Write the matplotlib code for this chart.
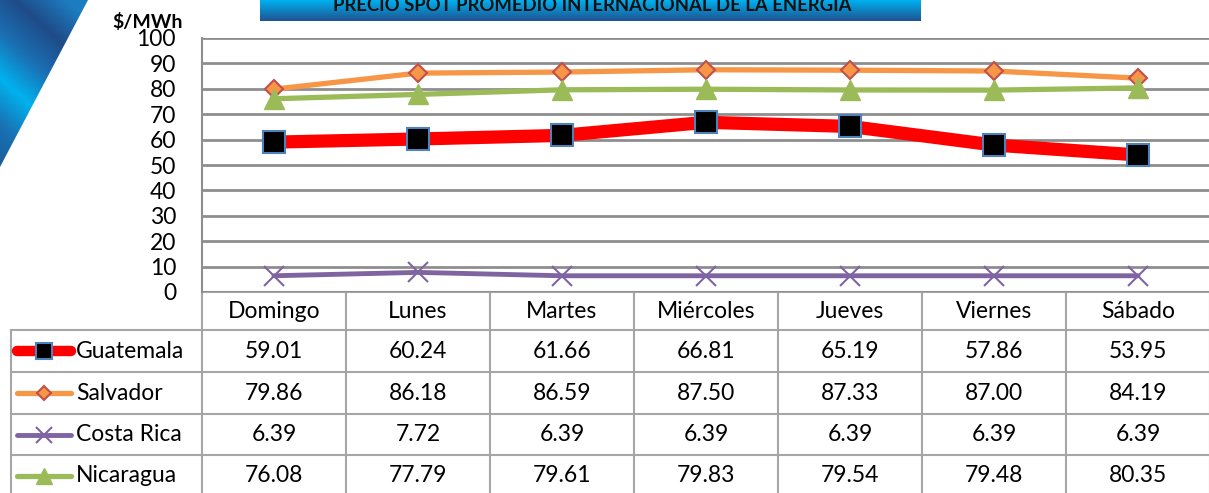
"""Precio spot promedio internacional de la energía: line chart with data table."""
import matplotlib
matplotlib.use("Agg")
import matplotlib.pyplot as plt
import numpy as np
from matplotlib.colors import LinearSegmentedColormap
from matplotlib.patches import Polygon

plt.rcParams["font.family"] = ["Lato", "DejaVu Sans"]

DAYS = ["Domingo", "Lunes", "Martes", "Miércoles", "Jueves", "Viernes", "Sábado"]
COUNTRIES = ["Guatemala", "Salvador", "Costa Rica", "Nicaragua"]
GUATEMALA = [59.01, 60.24, 61.66, 66.81, 65.19, 57.86, 53.95]
SALVADOR = [79.86, 86.18, 86.59, 87.50, 87.33, 87.00, 84.19]
COSTA_RICA = [6.39, 7.72, 6.39, 6.39, 6.39, 6.39, 6.39]
NICARAGUA = [76.08, 77.79, 79.61, 79.83, 79.54, 79.48, 80.35]
Y_TICKS = [0, 10, 20, 30, 40, 50, 60, 70, 80, 90, 100]
TITLE = "PRECIO SPOT PROMEDIO INTERNACIONAL DE LA ENERGÍA"

STYLES = {
    "Guatemala": dict(color="#FF0000", lw=9.5, marker="s", ms=16,
                      mfc="black", mec="#4F81BD", mew=1.5),
    "Salvador": dict(color="#F79646", lw=3.8, marker="D", ms=9,
                     mfc="#F79646", mec="#C0504D", mew=1.5),
    "Costa Rica": dict(color="#8064A2", lw=3.5, marker="x", ms=14,
                       mec="#8064A2", mew=1.5),
    "Nicaragua": dict(color="#9BBB59", lw=3.8, marker="^", ms=15,
                      mfc="#9BBB59", mec="#9BBB59", mew=1),
}
SERIES = dict(zip(COUNTRIES, [GUATEMALA, SALVADOR, COSTA_RICA, NICARAGUA]))

W, H = 1209, 493
PLOT_L, PLOT_R, PLOT_T, PLOT_B = 202, 1210, 38, 292
ROWS = [292, 330, 372, 414, 455, 497]
KEY_L = 11
GRID = "#8E8E8E"
TABLE_LINE = "#A6A6A6"
FS = 16.5


def main():
    fig = plt.figure(figsize=(W / 100, H / 100), dpi=100)

    # pixel-space overlay for decoration and the data table
    ov = fig.add_axes([0, 0, 1, 1], zorder=0)
    ov.set_xlim(0, W)
    ov.set_ylim(H, 0)
    ov.axis("off")

    # blue diagonal corner
    cmap_corner = LinearSegmentedColormap.from_list(
        "corner", ["#1C7CC0", "#1F4B88", "#1A6FB3", "#00B2EE", "#1872B4", "#1A5C9C"])
    xx, yy = np.meshgrid(np.linspace(0, 90, 90), np.linspace(0, 170, 170))
    grad = yy - 0.9 * xx
    im = ov.imshow(grad, extent=(0, 90, 170, 0), cmap=cmap_corner,
                   vmin=-60, vmax=170, aspect="auto", zorder=1)
    tri = Polygon([(0, 0), (88, 0), (0, 167)], closed=True,
                  transform=ov.transData, facecolor="none", edgecolor="none")
    ov.add_patch(tri)
    im.set_clip_path(tri)

    # title banner
    cmap_banner = LinearSegmentedColormap.from_list("banner", ["#00B0F0", "#1F5390"])
    ov.imshow(np.linspace(0, 1, 50).reshape(-1, 1), extent=(260, 921, 21, 0),
              cmap=cmap_banner, aspect="auto", zorder=1)
    ov.text(592, 11, TITLE, ha="center", va="baseline", fontsize=13.3,
            fontweight="bold", color="#111111", zorder=2)

    # main plot
    ax = fig.add_axes([PLOT_L / W, (H - PLOT_B) / H, (PLOT_R - PLOT_L) / W,
                       (PLOT_B - PLOT_T) / H], zorder=2)
    ax.patch.set_alpha(0)
    x = np.arange(len(DAYS))
    for name in COUNTRIES:
        st = STYLES[name]
        ax.plot(x, SERIES[name], solid_capstyle="round", solid_joinstyle="round",
                clip_on=False, **st)
    ax.set_xlim(-0.5, len(DAYS) - 0.5)
    ax.set_ylim(0, 100)
    ax.set_yticks(Y_TICKS)
    ax.set_xticks([])
    ax.yaxis.grid(True, color=GRID, lw=2)
    ax.set_axisbelow(True)
    for side in ["top", "right", "bottom"]:
        ax.spines[side].set_visible(False)
    ax.spines["left"].set_color(GRID)
    ax.spines["left"].set_linewidth(1.5)
    ax.tick_params(axis="y", length=0, pad=18.7, labelsize=FS)
    ax.text(-0.019, 1.063, "$/MWh", transform=ax.transAxes, ha="right", va="center",
            fontsize=14, fontweight="bold")

    # data table
    colw = (PLOT_R - PLOT_L) / len(DAYS)
    for i, y in enumerate(ROWS):
        ov.plot([KEY_L if i > 0 else PLOT_L, W], [y, y], color=TABLE_LINE, lw=1.5, zorder=1)
    for j in range(len(DAYS) + 1):
        xe = PLOT_L + j * colw
        ov.plot([xe, xe], [ROWS[0], ROWS[-1]], color=TABLE_LINE, lw=1.5, zorder=1)
    ov.plot([KEY_L, KEY_L], [ROWS[1], ROWS[-1]], color=TABLE_LINE, lw=1.5, zorder=1)

    for j, day in enumerate(DAYS):
        cx = PLOT_L + (j + 0.5) * colw
        ov.text(cx, (ROWS[0] + ROWS[1]) / 2, day, ha="center", va="center",
                fontsize=FS, zorder=3)
        for i, name in enumerate(COUNTRIES):
            cy = (ROWS[i + 1] + ROWS[i + 2]) / 2
            ov.text(cx, cy, f"{SERIES[name][j]:.2f}", ha="center", va="center",
                    fontsize=FS, zorder=3)

    for i, name in enumerate(COUNTRIES):
        cy = (ROWS[i + 1] + ROWS[i + 2]) / 2
        st = STYLES[name]
        ov.plot([17, 71], [cy, cy], color=st["color"], lw=min(st["lw"], 7.5),
                solid_capstyle="round", zorder=3)
        key = {k: v for k, v in st.items() if k not in ("color", "lw")}
        if name == "Guatemala":
            key["ms"] = 12
        else:
            key["ms"] = st["ms"] * 0.8
        ov.plot([44], [cy], ls="none", zorder=4, **key)
        ov.text(76, cy, name, ha="left", va="center", fontsize=FS, zorder=3)

    fig.savefig("out.png", dpi=100)


if __name__ == "__main__":
    main()
